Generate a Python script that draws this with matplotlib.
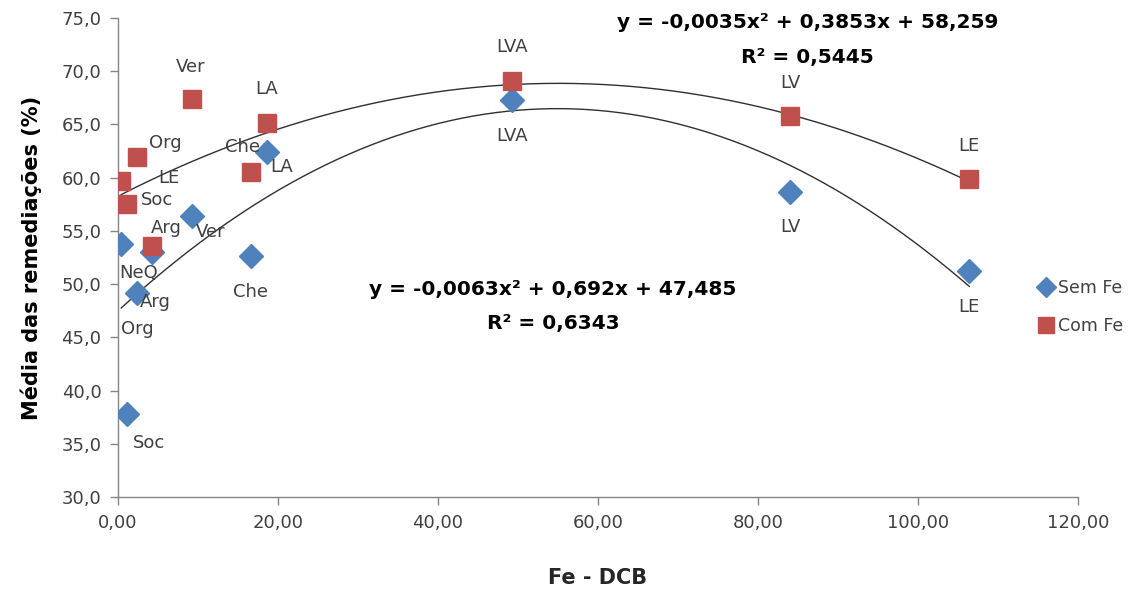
import numpy as np
import matplotlib
matplotlib.use("Agg")
import matplotlib.pyplot as plt
from matplotlib.ticker import FuncFormatter, MultipleLocator

# Fe extracted by DCB for each soil, shared by both treatments
fe_dcb = [0.4, 4.2, 2.4, 1.1, 9.3, 16.6, 18.6, 49.2, 84.0, 106.4]

# mean remediation (%) without / with added Fe
rem_sem_fe = [53.8, 53.0, 49.2, 37.8, 56.4, 52.6, 62.4, 67.3, 58.7, 51.2]
rem_com_fe = [59.7, 53.6, 61.9, 57.5, 67.4, 60.5, 65.1, 69.1, 65.8, 59.9]

labels_sem_fe = ["NeQ", "Arg", "Org", "Soc", "Ver", "Che", "LA", "LVA", "LV", "LE"]
labels_com_fe = ["LE", "Arg", "Org", "Soc", "Ver", "Che", "LA", "LVA", "LV", "LE"]

# quadratic trend coefficients (a, b, c) for y = a x^2 + b x + c
coef_sem_fe = [-0.0063, 0.692, 47.485]
r2_sem_fe = 0.6343
coef_com_fe = [-0.0035, 0.3853, 58.259]
r2_com_fe = 0.5445

BLUE = "#4F81BD"
RED = "#C0504D"
TXT = "#404040"

plt.rcParams["font.family"] = ["DejaVu Sans"]


def br(v, nd):
    return f"{v:.{nd}f}".replace(".", ",")


def eq_text(coef, r2):
    a, b, c = coef
    sa = "-" if a < 0 else ""
    sb = "-" if b < 0 else "+"
    sc = "-" if c < 0 else "+"
    fmt = lambda v: f"{abs(v):g}".replace(".", ",")
    line1 = f"y = {sa}{fmt(a)}x² {sb} {fmt(b)}x {sc} {fmt(c)}"
    line2 = f"R² = {fmt(r2)}"
    return line1, line2


fig = plt.figure(figsize=(11.45, 5.95), dpi=100)
ax = fig.add_axes([0.1031, 0.1647, 0.8384, 0.8050])

# trend lines over the range of the data
xs = np.linspace(min(fe_dcb), max(fe_dcb), 300)
ax.plot(xs, np.polyval(coef_sem_fe, xs), color="#303030", lw=1.0, zorder=2)
ax.plot(xs, np.polyval(coef_com_fe, xs), color="#303030", lw=1.0, zorder=2)

ax.plot(fe_dcb, rem_sem_fe, ls="none", marker="D", ms=12, color=BLUE,
        mec=BLUE, label="Sem Fe", zorder=3)
ax.plot(fe_dcb, rem_com_fe, ls="none", marker="s", ms=13.5, color=RED,
        mec=RED, label="Com Fe", zorder=3)

# point label offsets in pixels
off_sem = [(17, -29), (4, -50), (0, -36), (22, -29), (18, -16),
           (0, -36), (15, -15), (0, -36), (0, -35), (0, -36)]
off_com = [(48, 3), (15, 18), (28, 14), (30, 4), (-2, 32),
           (-8, 25), (0, 34), (0, 34), (0, 33), (0, 33)]

for x, y, lab, (dx, dy) in zip(fe_dcb, rem_sem_fe, labels_sem_fe, off_sem):
    ax.annotate(lab, (x, y), xytext=(dx, dy), textcoords="offset pixels",
                ha="center", va="center", fontsize=13, color=TXT, zorder=4)
for x, y, lab, (dx, dy) in zip(fe_dcb, rem_com_fe, labels_com_fe, off_com):
    ax.annotate(lab, (x, y), xytext=(dx, dy), textcoords="offset pixels",
                ha="center", va="center", fontsize=13, color=TXT, zorder=4)

# trend equations
l1, l2 = eq_text(coef_com_fe, r2_com_fe)
ax.text(0.718, 0.99, l1, transform=ax.transAxes, ha="center", va="center",
        fontsize=14.5, fontweight="bold", color="black")
ax.text(0.718, 0.918, l2, transform=ax.transAxes, ha="center", va="center",
        fontsize=14.5, fontweight="bold", color="black")
l1, l2 = eq_text(coef_sem_fe, r2_sem_fe)
ax.text(0.453, 0.434, l1, transform=ax.transAxes, ha="center", va="center",
        fontsize=14.5, fontweight="bold", color="black")
ax.text(0.453, 0.363, l2, transform=ax.transAxes, ha="center", va="center",
        fontsize=14.5, fontweight="bold", color="black")

ax.set_xlim(0, 120)
ax.set_ylim(30, 75)
ax.xaxis.set_major_locator(MultipleLocator(20))
ax.yaxis.set_major_locator(MultipleLocator(5))
ax.xaxis.set_major_formatter(FuncFormatter(lambda v, p: br(v, 2)))
ax.yaxis.set_major_formatter(FuncFormatter(lambda v, p: br(v, 1)))
ax.tick_params(axis="both", direction="out", length=6, width=1,
               color="#868686", labelsize=13, labelcolor=TXT, pad=6)

for s in ("top", "right"):
    ax.spines[s].set_visible(False)
for s in ("left", "bottom"):
    ax.spines[s].set_color("#868686")
    ax.spines[s].set_linewidth(1)

ax.set_xlabel("Fe - DCB", fontsize=15, fontweight="bold", color="#262626",
              labelpad=26)
ax.set_ylabel("Média das remediações (%)", fontsize=15, fontweight="bold",
              color="black", labelpad=14)

ax.legend(loc="center left", bbox_to_anchor=(0.943, 0.397), frameon=False,
          fontsize=12.5, handlelength=0.8, handletextpad=0.3, labelspacing=1.15,
          labelcolor=TXT, markerscale=0.85)

fig.savefig("out.png", dpi=100)
